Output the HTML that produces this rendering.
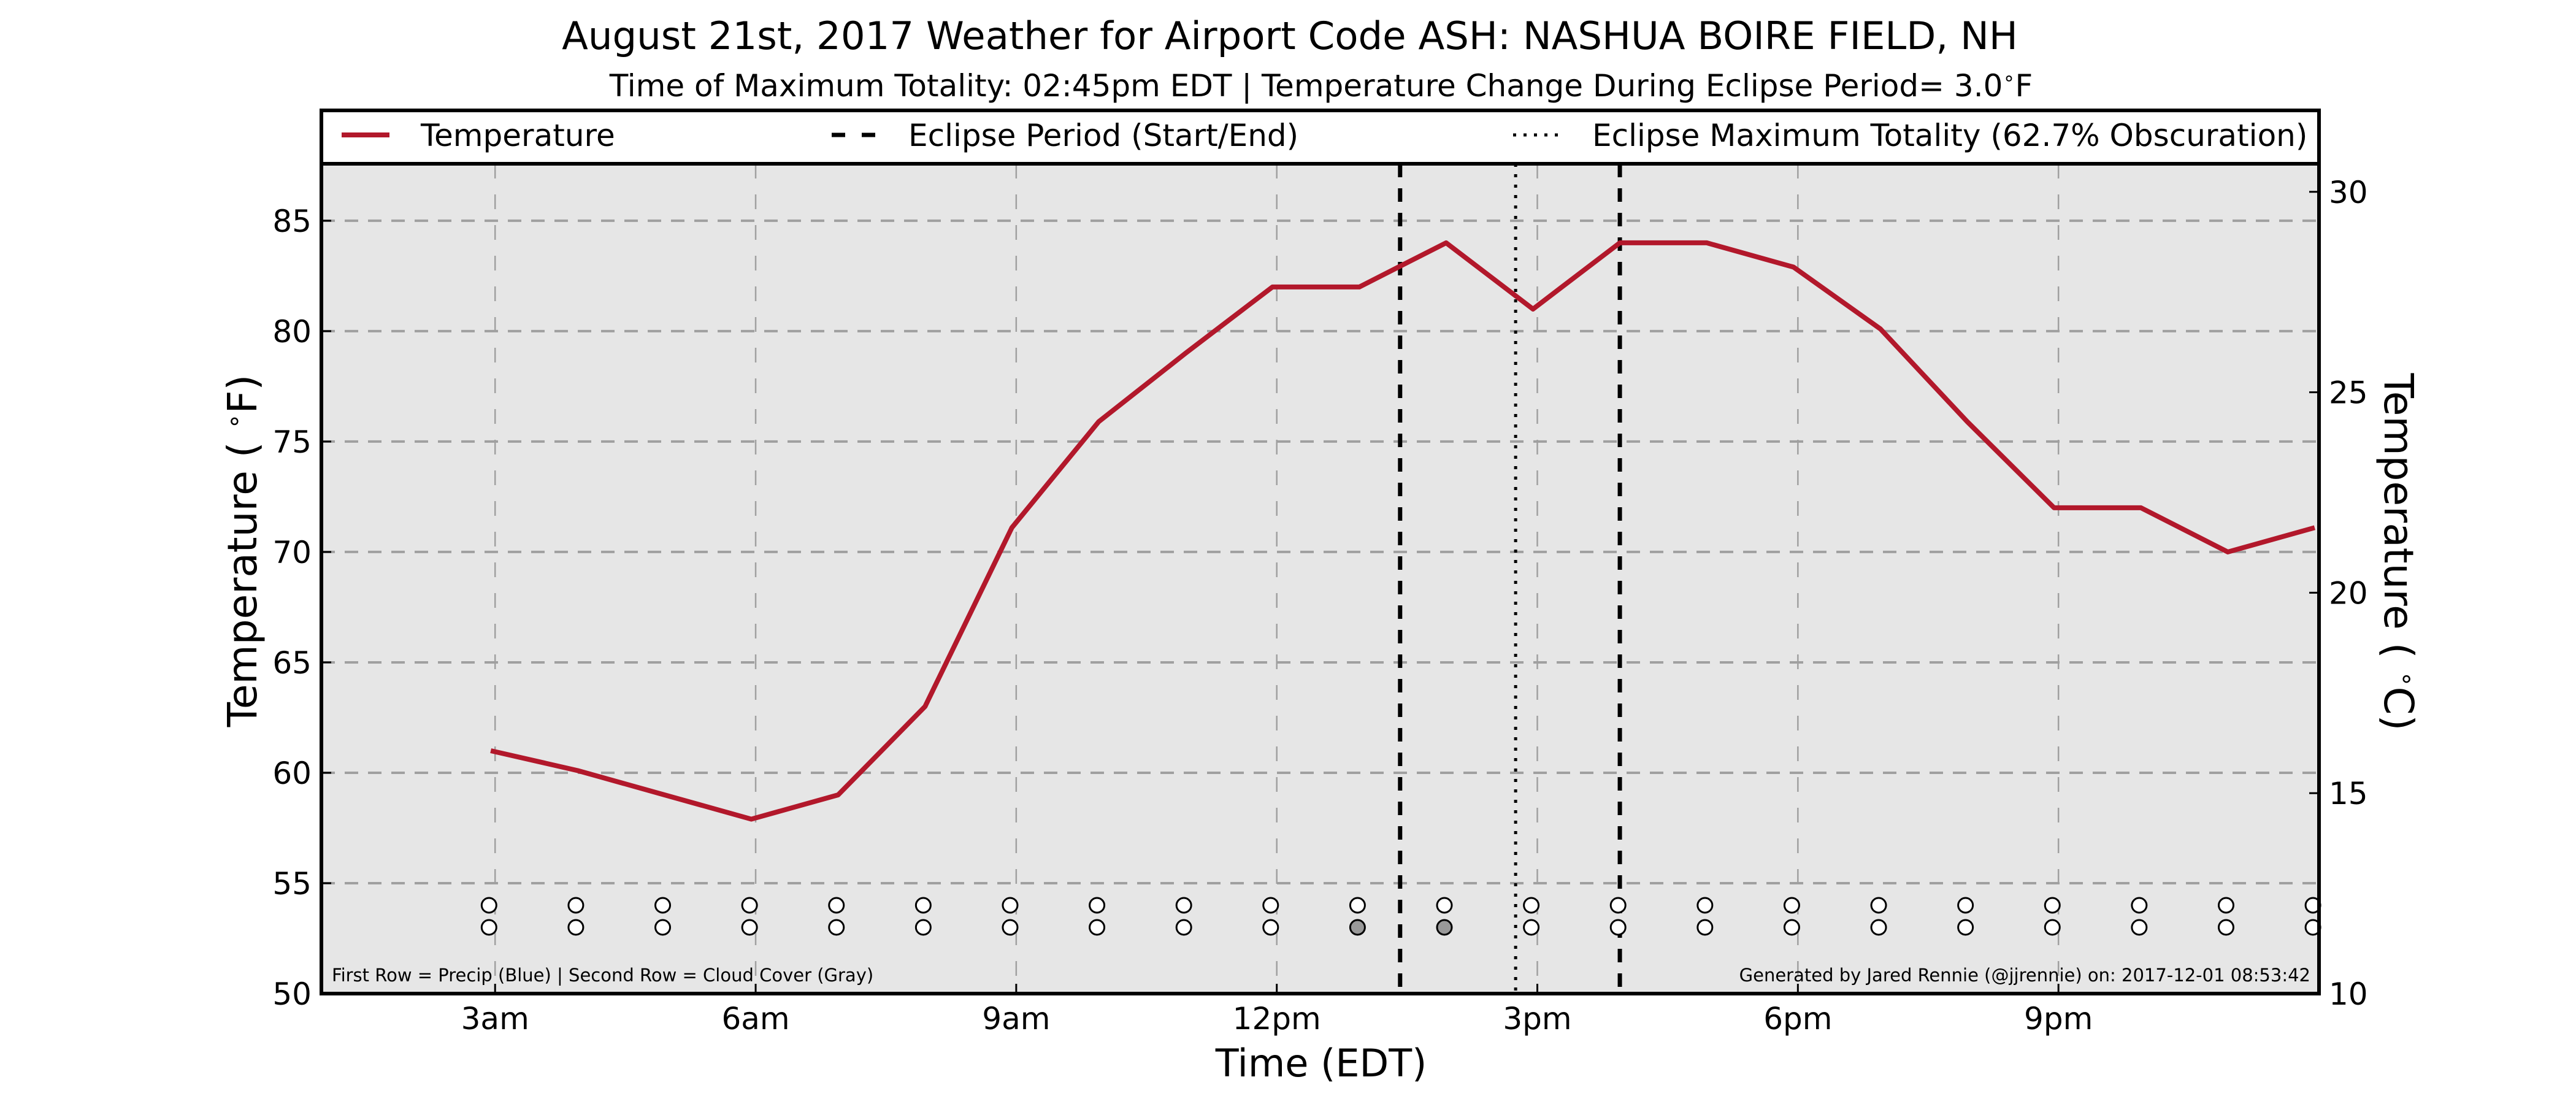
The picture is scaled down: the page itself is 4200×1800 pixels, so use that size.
<!DOCTYPE html>
<html><head><meta charset="utf-8"><style>
html,body{margin:0;padding:0;background:#fff;}
svg{display:block;font-family:"DejaVu Sans","Liberation Sans",sans-serif;}
</style></head><body>
<svg id="chart" width="4200" height="1800" viewBox="0 0 4200 1800" xmlns="http://www.w3.org/2000/svg">
<rect width="4200" height="1800" fill="#fff"/>
<text x="2103" y="80" font-size="62.5" text-anchor="middle">August 21st, 2017 Weather for Airport Code ASH: NASHUA BOIRE FIELD, NH</text>
<text x="2154" y="157" font-size="50" text-anchor="middle">Time of Maximum Totality: 02:45pm EDT | Temperature Change During Eclipse Period= 3.0<tspan baseline-shift="super" font-size="32">∘</tspan>F</text>
<g id="plot"></g>
<text x="2154" y="1755" font-size="62" text-anchor="middle">Time (EDT)</text>
<text transform="translate(418,898) rotate(-90)" font-size="66" text-anchor="middle">Temperature ( <tspan baseline-shift="super" font-size="40">∘</tspan>F)</text>
<text transform="translate(3888,900) rotate(90)" font-size="66" text-anchor="middle">Temperature ( <tspan baseline-shift="super" font-size="40">∘</tspan>C)</text>
</svg>
<script>
const hours = [3,4,5,6,7,8,9,10,11,12,13,14,15,16,17,18,19,20,21,22,23,24];
const tempsF = [61,60.1,59,57.9,59,63,71.1,75.9,79,82,82,84,81,84,84,82.9,80.1,75.9,72,72,70,71.1];
const cloudFill = ["w","w","w","w","w","w","w","w","w","w","g","g","w","w","w","w","w","w","w","w","w","w"];
const eclipseStart = 13.42, eclipseMax = 14.75, eclipseEnd = 15.95;
const xTickHours = [3,6,9,12,15,18,21];
const xTickLabels = ["3am","6am","9am","12pm","3pm","6pm","9pm"];
const yTicksF = [50,55,60,65,70,75,80,85];
const yTicksC = [10,15,20,25,30];

const L=524, R=3781, T=267, B=1620;
const xMin=1, xMax=24, yMin=50, yMax=87.58, cMin=10, cMax=30.7;
const X = h => L + (h-xMin)/(xMax-xMin)*(R-L);
const Y = f => B - (f-yMin)/(yMax-yMin)*(B-T);
const YC = c => B - (c-cMin)/(cMax-cMin)*(B-T);
const NS="http://www.w3.org/2000/svg";
const g=document.getElementById('plot');
function mk(tag, attrs, parent){const e=document.createElementNS(NS,tag);for(const k in attrs)e.setAttribute(k,attrs[k]);(parent||g).appendChild(e);return e;}

let e=mk('rect',{x:L,y:T,width:R-L,height:B-T,fill:'#e6e6e6'});


yTicksF.forEach(v=>{
 const l=mk('line',{x1:L,x2:R,y1:Y(v),y2:Y(v),stroke:'#a0a0a0','stroke-width':4,'stroke-dasharray':'22 16'});
 
 
 mk('line',{x1:L,x2:L+16,y1:Y(v),y2:Y(v),stroke:'#000','stroke-width':3});
 const t=mk('text',{x:L-16,y:Y(v)+18,'font-size':50,'text-anchor':'end'});t.textContent=v;
 
 
});
xTickHours.forEach((h,i)=>{
 const l=mk('line',{x1:X(h),x2:X(h),y1:T,y2:B,stroke:'#a0a0a0','stroke-width':2.5,'stroke-dasharray':'24 26'});
 
 
 mk('line',{x1:X(h),x2:X(h),y1:B-16,y2:B,stroke:'#000','stroke-width':3});
 const t=mk('text',{x:X(h),y:1678,'font-size':50,'text-anchor':'middle'});t.textContent=xTickLabels[i];
 
 
});
yTicksC.forEach(c=>{
 const y=YC(c);
 mk('line',{x1:R-16,x2:R,y1:y,y2:y,stroke:'#000','stroke-width':3});
 const t=mk('text',{x:R+16,y:y+18,'font-size':50});t.textContent=c;
 
 
});
[[eclipseStart,'22 18','eclipse-start-line'],[eclipseEnd,'22 18','eclipse-end-line'],[eclipseMax,'5 12','eclipse-max-line']].forEach(([h,d,n])=>{
 const l=mk('line',{x1:X(h),x2:X(h),y1:T,y2:B,stroke:'#000','stroke-width':n==='eclipse-max-line'?5:7,'stroke-dasharray':d});
 
 
});
const p=mk('polyline',{points:hours.map((h,i)=>X(h-0.05)+','+Y(tempsF[i])).join(' '),fill:'none',stroke:'#b2182b','stroke-width':8,'stroke-linejoin':'round'});


hours.forEach((h,i)=>{
 const c1=mk('circle',{cx:X(h-0.07),cy:1476,r:12,fill:'#fff',stroke:'#000','stroke-width':3});
 
 
 const c2=mk('circle',{cx:X(h-0.07),cy:1512,r:12,fill:cloudFill[i]==='g'?'#999':'#fff',stroke:'#000','stroke-width':3});
 
 
});
let t1=mk('text',{x:541,y:1600,'font-size':29});t1.textContent='First Row = Precip (Blue) | Second Row = Cloud Cover (Gray)';


let t2=mk('text',{x:3767,y:1600,'font-size':29,'text-anchor':'end'});t2.textContent='Generated by Jared Rennie (@jjrennie) on: 2017-12-01 08:53:42';


mk('rect',{x:L,y:T,width:R-L,height:B-T,fill:'none',stroke:'#000','stroke-width':6});
const lg=mk('g',{});


mk('rect',{x:L,y:180,width:R-L,height:T-180,fill:'#fff',stroke:'#000','stroke-width':6},lg);
mk('line',{x1:557,x2:635,y1:220,y2:220,stroke:'#b2182b','stroke-width':8},lg);
let lt=mk('text',{x:686,y:238,'font-size':50},lg);lt.textContent='Temperature';


mk('line',{x1:1356,x2:1428,y1:220,y2:220,stroke:'#000','stroke-width':7,'stroke-dasharray':'22 27'},lg);
lt=mk('text',{x:1481,y:238,'font-size':50},lg);lt.textContent='Eclipse Period (Start/End)';


mk('line',{x1:2467,x2:2545,y1:220,y2:220,stroke:'#000','stroke-width':5,'stroke-dasharray':'5 12'},lg);
lt=mk('text',{x:2596,y:238,'font-size':50},lg);lt.textContent='Eclipse Maximum Totality (62.7% Obscuration)';


</script>
</body></html>
